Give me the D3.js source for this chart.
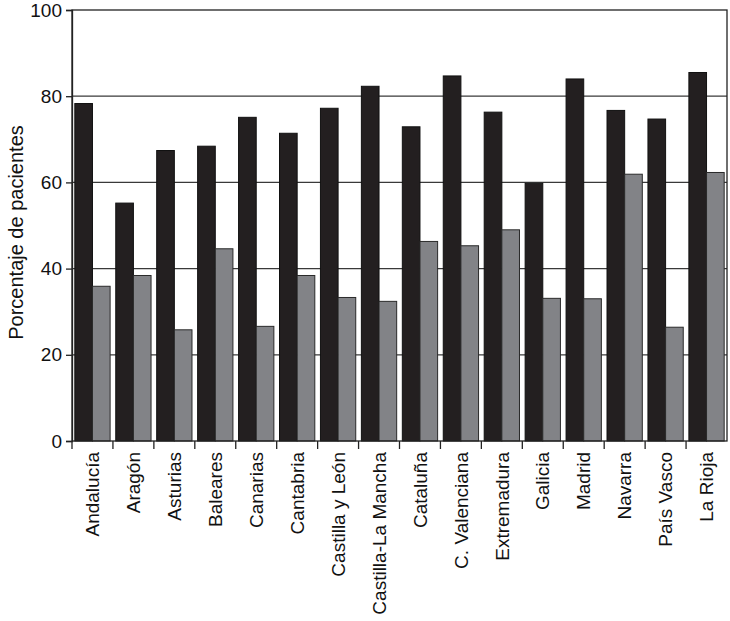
<!DOCTYPE html>
<html>
<head>
<meta charset="utf-8">
<script src="https://cdn.jsdelivr.net/npm/d3@7"></script>
<style>
  body { margin: 0; background: #fff; }
  svg { display: block; font-family: "Liberation Sans", Arial, Helvetica, sans-serif; }
</style>
</head>
<body>
<div id="container"></div>
<script>
const regions = [
  'Andalucía', 'Aragón', 'Asturias', 'Baleares', 'Canarias', 'Cantabria',
  'Castilla y León', 'Castilla-La Mancha', 'Cataluña', 'C. Valenciana',
  'Extremadura', 'Galicia', 'Madrid', 'Navarra', 'País Vasco', 'La Rioja'
];
const seriesBlack = [78.3, 55.2, 67.4, 68.4, 75.1, 71.4, 77.2, 82.3, 72.9, 84.7, 76.3, 59.8, 84.0, 76.7, 74.7, 85.5];
const seriesGray = [35.9, 38.4, 25.8, 44.6, 26.6, 38.4, 33.3, 32.4, 46.3, 45.3, 49.0, 33.1, 33.0, 61.9, 26.4, 62.3];
const yTicks = [0, 20, 40, 60, 80, 100];

const w = 730;
const h = 621;
const margin = { top: 10, right: 3, bottom: 180, left: 72 };

const svg = d3
  .select('#container')
  .append('svg')
  .attr('width', w)
  .attr('height', h);

const x = d3
  .scaleBand()
  .domain(regions)
  .range([margin.left, w - margin.right])
  .paddingInner(0)
  .paddingOuter(0);

const inner = d3
  .scaleBand()
  .domain(['black', 'gray'])
  .range([0, x.bandwidth()])
  .paddingOuter(0.16)
  .paddingInner(0);

const y = d3
  .scaleLinear()
  .domain([0, 100])
  .range([h - margin.bottom, margin.top]);

// grid lines
svg
  .append('g')
  .selectAll('line')
  .data(yTicks.filter(d => d > 0 && d < 100))
  .enter()
  .append('line')
  .attr('x1', margin.left)
  .attr('x2', w - margin.right)
  .attr('y1', d => y(d))
  .attr('y2', d => y(d))
  .attr('stroke', '#3a3a3a')
  .attr('stroke-width', 1.2);

const groups = svg
  .append('g')
  .selectAll('g')
  .data(regions)
  .enter()
  .append('g')
  .attr('transform', d => `translate(${x(d)},0)`);

groups
  .append('rect')
  .attr('x', inner('black'))
  .attr('y', (d, i) => y(seriesBlack[i]))
  .attr('width', inner.bandwidth())
  .attr('height', (d, i) => y(0) - y(seriesBlack[i]))
  .attr('fill', '#231f20')
  .attr('stroke', '#111')
  .attr('stroke-width', 1);

groups
  .append('rect')
  .attr('x', inner('gray'))
  .attr('y', (d, i) => y(seriesGray[i]))
  .attr('width', inner.bandwidth())
  .attr('height', (d, i) => y(0) - y(seriesGray[i]))
  .attr('fill', '#828387')
  .attr('stroke', '#2a2a2a')
  .attr('stroke-width', 1);

// frame
svg
  .append('rect')
  .attr('x', margin.left)
  .attr('y', margin.top)
  .attr('width', w - margin.left - margin.right)
  .attr('height', h - margin.top - margin.bottom)
  .attr('fill', 'none')
  .attr('stroke', '#222')
  .attr('stroke-width', 1.3);

const yAxis = d3.axisLeft(y).tickValues(yTicks).tickSize(6).tickPadding(4);
const gy = svg
  .append('g')
  .attr('transform', `translate(${margin.left},0)`)
  .call(yAxis);
gy.select('.domain').attr('stroke', '#222').attr('stroke-width', 1.3);
gy.selectAll('.tick line').attr('stroke', '#222').attr('stroke-width', 1.3);
gy.selectAll('.tick text')
  .attr('fill', '#111')
  .style('font-size', '19px');

const xAxis = d3.axisBottom(x).tickSize(0).tickPadding(0);
const gx = svg
  .append('g')
  .attr('transform', `translate(0,${h - margin.bottom})`)
  .call(xAxis);
gx.select('.domain').remove();
gx.selectAll('.tick text')
  .attr('fill', '#111')
  .style('font-size', '19px')
  .style('text-anchor', 'end')
  .attr('transform', 'rotate(-90)')
  .attr('x', -11)
  .attr('y', 0)
  .attr('dy', '0.35em');

// separator ticks between categories
svg
  .append('g')
  .selectAll('line')
  .data(regions)
  .enter()
  .append('line')
  .attr('x1', d => x(d))
  .attr('x2', d => x(d))
  .attr('y1', y(0))
  .attr('y2', y(0) + 8)
  .attr('stroke', '#222')
  .attr('stroke-width', 1.3);

svg
  .append('text')
  .attr('transform', `translate(16,${(margin.top + h - margin.bottom) / 2 + 7}) rotate(-90)`)
  .attr('text-anchor', 'middle')
  .attr('dy', '0.35em')
  .attr('fill', '#111')
  .style('font-size', '20px')
  .text('Porcentaje de pacientes');
</script>
</body>
</html>
